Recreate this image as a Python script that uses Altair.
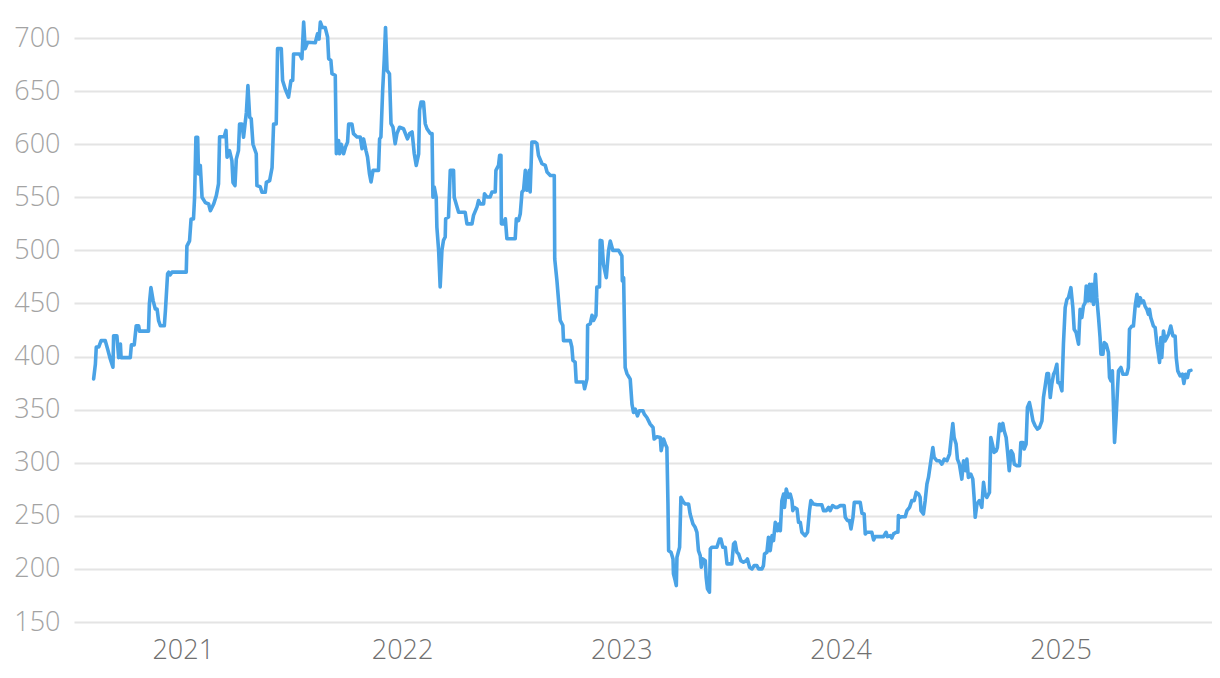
import altair as alt
import pandas as pd

# Time of each observation as a decimal year, and the price level
t_years = [
    2020.596, 2020.604, 2020.608, 2020.619, 2020.630, 2020.649, 2020.660, 2020.672, 2020.684, 2020.687,
    2020.702, 2020.710, 2020.718, 2020.721, 2020.763, 2020.768, 2020.781, 2020.790, 2020.801, 2020.805,
    2020.846, 2020.850, 2020.857, 2020.867, 2020.877, 2020.885, 2020.892, 2020.900, 2020.918, 2020.923,
    2020.933, 2020.938, 2020.945, 2020.953, 2021.018, 2021.021, 2021.033, 2021.040, 2021.051, 2021.056,
    2021.062, 2021.070, 2021.074, 2021.082, 2021.090, 2021.105, 2021.120, 2021.128, 2021.143, 2021.155,
    2021.165, 2021.170, 2021.191, 2021.199, 2021.204, 2021.215, 2021.226, 2021.231, 2021.240, 2021.246,
    2021.256, 2021.261, 2021.272, 2021.279, 2021.292, 2021.299, 2021.307, 2021.314, 2021.322, 2021.337,
    2021.340, 2021.355, 2021.363, 2021.378, 2021.383, 2021.398, 2021.409, 2021.416, 2021.428, 2021.434,
    2021.451, 2021.457, 2021.469, 2021.484, 2021.495, 2021.503, 2021.507, 2021.534, 2021.545, 2021.553,
    2021.560, 2021.571, 2021.606, 2021.616, 2021.623, 2021.629, 2021.638, 2021.651, 2021.662, 2021.667,
    2021.677, 2021.682, 2021.697, 2021.702, 2021.712, 2021.717, 2021.724, 2021.735, 2021.743, 2021.753,
    2021.758, 2021.773, 2021.780, 2021.796, 2021.811, 2021.819, 2021.826, 2021.837, 2021.844, 2021.853,
    2021.860, 2021.869, 2021.894, 2021.899, 2021.905, 2021.913, 2021.920, 2021.926, 2021.933, 2021.944,
    2021.951, 2021.960, 2021.970, 2021.978, 2021.990, 2022.008, 2022.026, 2022.036, 2022.047, 2022.057,
    2022.066, 2022.077, 2022.081, 2022.088, 2022.099, 2022.107, 2022.115, 2022.130, 2022.138, 2022.142,
    2022.148, 2022.157, 2022.160, 2022.168, 2022.175, 2022.183, 2022.190, 2022.198, 2022.200, 2022.213,
    2022.221, 2022.236, 2022.239, 2022.252, 2022.259, 2022.289, 2022.297, 2022.320, 2022.327, 2022.343,
    2022.350, 2022.358, 2022.373, 2022.377, 2022.388, 2022.403, 2022.411, 2022.426, 2022.429, 2022.441,
    2022.446, 2022.452, 2022.454, 2022.464, 2022.472, 2022.479, 2022.517, 2022.522, 2022.532, 2022.540,
    2022.548, 2022.555, 2022.563, 2022.570, 2022.581, 2022.585, 2022.593, 2022.608, 2022.616, 2022.623,
    2022.639, 2022.654, 2022.662, 2022.677, 2022.695, 2022.697, 2022.707, 2022.722, 2022.734, 2022.737,
    2022.768, 2022.775, 2022.780, 2022.790, 2022.795, 2022.828, 2022.833, 2022.844, 2022.847, 2022.859,
    2022.867, 2022.874, 2022.885, 2022.889, 2022.901, 2022.904, 2022.912, 2022.919, 2022.932, 2022.942,
    2022.950, 2022.962, 2022.988, 2023.003, 2023.005, 2023.011, 2023.014, 2023.018, 2023.026, 2023.041,
    2023.049, 2023.056, 2023.064, 2023.074, 2023.083, 2023.099, 2023.105, 2023.117, 2023.132, 2023.145,
    2023.150, 2023.163, 2023.178, 2023.182, 2023.193, 2023.201, 2023.208, 2023.213, 2023.216, 2023.227,
    2023.236, 2023.238, 2023.246, 2023.251, 2023.254, 2023.266, 2023.272, 2023.284, 2023.292, 2023.307,
    2023.314, 2023.327, 2023.337, 2023.345, 2023.352, 2023.360, 2023.365, 2023.372, 2023.383, 2023.387,
    2023.393, 2023.402, 2023.406, 2023.413, 2023.436, 2023.448, 2023.454, 2023.463, 2023.474, 2023.482,
    2023.504, 2023.512, 2023.519, 2023.527, 2023.535, 2023.545, 2023.557, 2023.570, 2023.575, 2023.585,
    2023.596, 2023.606, 2023.618, 2023.626, 2023.641, 2023.648, 2023.653, 2023.664, 2023.671, 2023.679,
    2023.687, 2023.694, 2023.702, 2023.712, 2023.717, 2023.725, 2023.732, 2023.740, 2023.744, 2023.752,
    2023.762, 2023.770, 2023.778, 2023.782, 2023.788, 2023.801, 2023.808, 2023.816, 2023.823, 2023.838,
    2023.849, 2023.858, 2023.864, 2023.876, 2023.892, 2023.914, 2023.922, 2023.934, 2023.945, 2023.952,
    2023.963, 2023.975, 2023.986, 2023.998, 2024.016, 2024.021, 2024.031, 2024.040, 2024.047, 2024.056,
    2024.062, 2024.089, 2024.097, 2024.107, 2024.112, 2024.119, 2024.142, 2024.150, 2024.157, 2024.195,
    2024.207, 2024.213, 2024.226, 2024.233, 2024.241, 2024.253, 2024.261, 2024.263, 2024.271, 2024.279,
    2024.294, 2024.302, 2024.314, 2024.324, 2024.335, 2024.344, 2024.355, 2024.362, 2024.366, 2024.377,
    2024.385, 2024.393, 2024.400, 2024.411, 2024.420, 2024.426, 2024.438, 2024.450, 2024.461, 2024.472,
    2024.484, 2024.496, 2024.504, 2024.511, 2024.517, 2024.526, 2024.532, 2024.541, 2024.552, 2024.560,
    2024.569, 2024.575, 2024.582, 2024.593, 2024.602, 2024.608, 2024.613, 2024.621, 2024.632, 2024.643,
    2024.651, 2024.658, 2024.666, 2024.678, 2024.684, 2024.693, 2024.699, 2024.709, 2024.714, 2024.724,
    2024.730, 2024.739, 2024.745, 2024.754, 2024.760, 2024.768, 2024.777, 2024.785, 2024.791, 2024.803,
    2024.815, 2024.821, 2024.830, 2024.836, 2024.845, 2024.851, 2024.860, 2024.868, 2024.876, 2024.886,
    2024.897, 2024.906, 2024.917, 2024.924, 2024.932, 2024.940, 2024.947, 2024.955, 2024.962, 2024.970,
    2024.977, 2024.985, 2024.990, 2024.997, 2025.008, 2025.015, 2025.023, 2025.031, 2025.038, 2025.049,
    2025.058, 2025.064, 2025.073, 2025.084, 2025.091, 2025.099, 2025.106, 2025.114, 2025.119, 2025.126,
    2025.134, 2025.140, 2025.145, 2025.152, 2025.161, 2025.167, 2025.175, 2025.182, 2025.186, 2025.195,
    2025.201, 2025.210, 2025.220, 2025.225, 2025.232, 2025.238, 2025.248, 2025.255, 2025.261, 2025.266,
    2025.277, 2025.286, 2025.304, 2025.311, 2025.316, 2025.327, 2025.334, 2025.342, 2025.350, 2025.357,
    2025.365, 2025.372, 2025.380, 2025.387, 2025.395, 2025.402, 2025.407, 2025.413, 2025.418, 2025.425,
    2025.433, 2025.441, 2025.448, 2025.453, 2025.459, 2025.463, 2025.471, 2025.478, 2025.486, 2025.494,
    2025.504, 2025.514, 2025.524, 2025.529, 2025.536, 2025.547, 2025.557, 2025.564, 2025.571, 2025.580,
    2025.587, 2025.596,
]

prices = [
    379, 393, 409, 409, 415, 415, 407, 397.5, 390, 419.5,
    419.5, 399, 411.7, 399, 399, 411, 411, 429, 429, 424,
    424, 449.5, 465, 452.7, 444.8, 444.8, 433.8, 429, 429, 443,
    478, 479.5, 477, 479.5, 479.5, 504, 509, 529.6, 529.6, 550,
    606.6, 606.6, 572, 580, 550, 545, 543.7, 537.4, 543.7, 551.6,
    562.6, 607, 607, 613, 587.7, 594, 584.6, 564, 561, 586,
    594, 619, 619, 606.6, 630, 655.3, 625.5, 624, 600, 591,
    561, 560, 554.7, 554.7, 564, 565.7, 578, 619, 619, 690,
    690, 660, 652, 644.3, 660, 660, 685, 685, 680.5, 715,
    690, 696, 695.6, 704, 699, 715, 710, 710, 701, 680.5,
    679, 666.4, 664.8, 591, 603.5, 591, 600, 591, 597, 602,
    619, 619, 610, 606.8, 606.8, 595.8, 605, 594, 588, 572,
    564.4, 575.4, 575.4, 605, 606.8, 650.7, 679, 710, 669.5, 666.4,
    619.3, 616, 600.5, 610, 616, 614.6, 605, 610, 611.5, 591,
    580, 591, 632, 639.7, 639.7, 619.3, 614.6, 610, 610, 550,
    559.7, 550, 522, 500, 465.5, 500, 509.4, 512.6, 529.8, 531.4,
    575.4, 575.4, 550, 540.8, 536, 536, 525, 525, 533, 541,
    547, 543.8, 543.8, 553.4, 550.3, 550.3, 555, 555, 575.4, 580,
    589.5, 589.5, 525, 525, 529.8, 511, 511, 529.8, 528, 534.5,
    555, 556.6, 575.4, 556.6, 575.4, 555, 602, 602, 600.5, 589.5,
    581.6, 580, 573.8, 570.6, 570.6, 492, 471.7, 434, 429.4, 415,
    415, 409, 396.4, 394.8, 376, 376, 369.7, 379, 429.4, 431,
    438.8, 434, 438.8, 465.5, 465.5, 509.4, 508.8, 486.8, 474.3, 499.4,
    508.8, 500, 500, 494.7, 471.2, 474.3, 436.7, 389.7, 384, 378.7,
    355.2, 347.3, 350.5, 344.2, 349, 349, 345.8, 342.6, 336.4, 333.2,
    322.3, 324.5, 323.8, 311.3, 322.3, 317.5, 314.4, 261.1, 217.2, 215.7,
    209.4, 195.3, 189, 184.3, 211, 220.4, 267.4, 262.7, 261.1, 261.1,
    251.7, 242.3, 239.2, 234.5, 217.2, 212.5, 201.6, 209.4, 207.8, 192.2,
    181.2, 178.1, 218.8, 220.4, 220.4, 228.2, 228.2, 220.4, 220.4, 204.7,
    204.7, 223.5, 225.1, 215.7, 214.1, 207.8, 206.3, 207.8, 209.4, 201.6,
    200, 203.1, 203.1, 200, 200, 203.1, 214.1, 215.7, 229.8, 217.2,
    231.3, 226.7, 243.9, 236, 242.3, 236, 264.3, 270.5, 258, 275.2,
    267.4, 270.5, 264.3, 254.9, 258, 256.4, 243.9, 243.9, 234.5, 231.3,
    234.5, 254.9, 264.3, 261.1, 260.5, 260.5, 254.9, 254.9, 258, 254.9,
    259.6, 258, 258, 259.6, 259.6, 248.6, 245.5, 245.5, 237.6, 248.6,
    262.7, 262.7, 252.4, 251.7, 232.9, 234.5, 234.5, 227.3, 230.4, 230.4,
    234.5, 230.4, 231.3, 229.2, 233, 234.5, 234.5, 250.2, 248.6, 249.2,
    249.2, 254.9, 258, 264.3, 264.3, 272.1, 270.5, 267.4, 254.9, 251.7,
    264.3, 280, 286.2, 301.9, 314.4, 305, 301.9, 301.9, 298.7, 303.4,
    301.9, 308.2, 323.8, 337, 323.8, 317.6, 303.4, 298.7, 284.6, 301.9,
    292.5, 303.4, 286.2, 289.3, 284.6, 267.4, 248.6, 261.1, 264.3, 258,
    281.5, 270.5, 267.4, 272.1, 323.8, 316, 309.7, 311.3, 314.4, 336.4,
    330.1, 337, 330.1, 323.8, 311.3, 292.5, 311.3, 308.2, 298.7, 297.2,
    297.2, 319.1, 319.1, 312.9, 317.6, 352, 356.7, 348.9, 339.5, 334.8,
    331.7, 333.2, 339.5, 361.4, 372.4, 384, 384, 361.4, 373.9, 383.4,
    386.5, 392.8, 375.5, 375.5, 367.7, 411.6, 446.1, 453.9, 455.5, 464.9,
    446.1, 425.7, 422.6, 411.6, 444.5, 436.7, 447.6, 450.8, 466.5, 452.4,
    468, 452.4, 468, 449.2, 477.4, 455.5, 436.7, 417.9, 402.2, 402.2,
    413.2, 411.6, 403.8, 380.3, 377.1, 386.5, 319.1, 342.6, 367.7, 386.5,
    389.7, 383.4, 383.4, 389.7, 425.7, 428.8, 428.8, 447.6, 458.6, 447.6,
    455.5, 450.8, 452.4, 447.6, 444.5, 439.8, 444.5, 436.7, 433.5, 428.8,
    427.3, 411.6, 402.2, 394.4, 417.9, 399.1, 424.1, 414.7, 417.9, 421,
    428.8, 419.4, 419.4, 399.1, 386.5, 381.8, 383.4, 374.6, 383.4, 380.3,
    386.5, 387,
]

y_ticks = [150, 200, 250, 300, 350, 400, 450, 500, 550, 600, 650, 700]


def to_date(t):
    return pd.Timestamp("2020-01-01") + pd.to_timedelta((t - 2020.0) * 365.25, unit="D")


df = pd.DataFrame({"date": [to_date(t) for t in t_years], "price": prices})

year_ticks = [alt.DateTime(year=y, month=1, date=1) for y in [2021, 2022, 2023, 2024, 2025]]

chart = (
    alt.Chart(df)
    .mark_line(color="#4aa3e6", strokeWidth=3.6, strokeJoin="round", strokeCap="round")
    .encode(
        x=alt.X(
            "date:T",
            title=None,
            scale=alt.Scale(
                domain=[alt.DateTime(year=2020, month=7, date=4), alt.DateTime(year=2025, month=9, date=10)],
                nice=False,
            ),
            axis=alt.Axis(
                values=year_ticks,
                format="%Y",
                grid=False,
                domain=False,
                ticks=False,
                tickSize=0,
                labelPadding=15,
                labelFont="Open Sans",
                labelFontWeight=300,
                labelFontSize=27,
                labelColor="#707070",
                labelBaseline="top",
            ),
        ),
        y=alt.Y(
            "price:Q",
            title=None,
            scale=alt.Scale(domain=[150, 723.6], nice=False, zero=False),
            axis=alt.Axis(
                values=y_ticks,
                grid=True,
                gridColor="#e4e4e4",
                gridWidth=2,
                domain=False,
                ticks=False,
                tickSize=0,
                labelPadding=14,
                labelFont="Open Sans",
                labelFontWeight=300,
                labelFontSize=27,
                labelColor="#a3a3a3",
            ),
        ),
    )
    .properties(
        width=1138,
        height=609,
        autosize=alt.AutoSizeParams(type="none"),
        padding={"left": 66, "top": 5, "right": 0, "bottom": 50},
    )
    .configure_view(strokeWidth=0)
)

chart.save("out.html", embed_options={"renderer": "svg", "actions": False})
